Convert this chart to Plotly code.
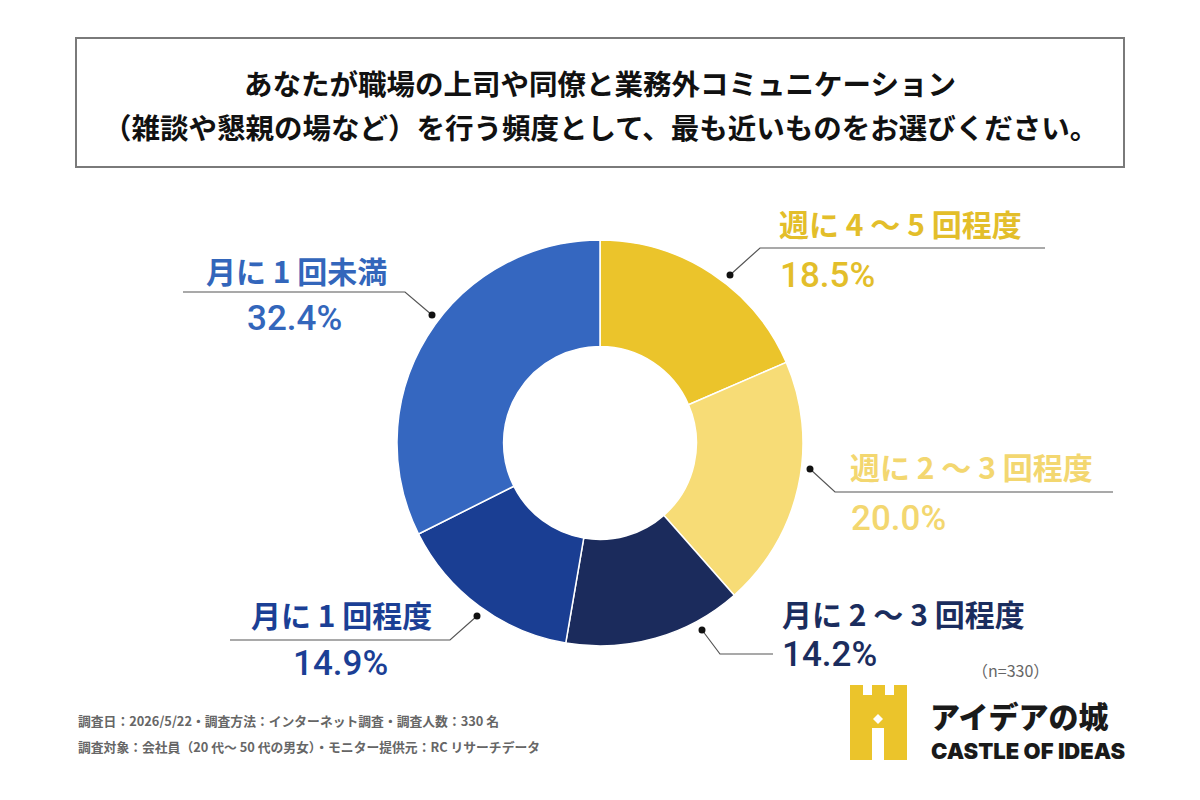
import plotly.graph_objects as go

# ---- data ----
categories = ["週に 4 〜 5 回程度", "週に 2 〜 3 回程度", "月に 2 〜 3 回程度", "月に 1 回程度", "月に 1 回未満"]
values = [18.5, 20.0, 14.2, 14.9, 32.4]
title_lines = ["あなたが職場の上司や同僚と業務外コミュニケーション",
               "（雑談や懇親の場など）を行う頻度として、最も近いものをお選びください。"]
footnotes = ["調査日：2026/5/22・調査方法：インターネット調査・調査人数：330 名",
             "調査対象：会社員（20 代～ 50 代の男女）・モニター提供元：RC リサーチデータ"]
sample_note = "（n=330）"

# ---- styles ----
slice_colors = ["#EBC42B", "#F7DC76", "#1B2B5C", "#1A3E93", "#3567C0"]
text_colors = ["#E3BE2A", "#F3D770", "#1B2D5E", "#1B3F95", "#3366BB"]
W, H = 1200, 800
FONT = "Noto Sans CJK JP"
cx, cy, R = 600, 443, 203

def px(x):
    return x / W

def py(y):
    return 1 - y / H

fig = go.Figure()
fig.add_trace(go.Pie(
    values=values, labels=categories, sort=False, direction="clockwise", rotation=0,
    hole=0.475, textinfo="none", hoverinfo="label+value", showlegend=False,
    marker=dict(colors=slice_colors, line=dict(color="white", width=1.5)),
    domain=dict(x=[px(cx - R), px(cx + R)], y=[py(cy + R), py(cy - R)]),
))

shapes = []
annotations = []

# title box
shapes.append(dict(type="rect", xref="paper", yref="paper", x0=px(76), x1=px(1124), y0=py(167), y1=py(38),
                   line=dict(color="#7a7a7a", width=2), fillcolor="white", layer="below"))
for i, (t, y) in enumerate(zip(title_lines, [82, 127])):
    annotations.append(dict(text=t, x=px(600), y=py(y), xref="paper", yref="paper", showarrow=False,
                            xanchor="center", yanchor="middle",
                            font=dict(family=FONT, size=28.5, color="#111", weight=700)))

# label layout: (dot, elbow, line_end, label_x, label_y, pct_x, pct_y, anchor_label, anchor_pct)
label_layout = [
    ((730, 275), (760, 248), 1045, 777, 223, 778, 275, "left", "left"),
    ((810, 469), (835, 492), 1113, 848, 466, 849, 518, "left", "left"),
    ((702, 630), (720, 654), 773, 780, 613, 780, 654, "left", "left"),
    ((477, 616), (450, 640), 230, 341, 614, 340, 663, "center", "center"),
    ((432, 315), (405, 292), 183, 296, 270, 294, 318, "center", "center"),
]
for cat, val, col, lay in zip(categories, values, text_colors, label_layout):
    (dx, dy), (ex, ey), lx, tx, ty, ppx, ppy, a1, a2 = lay
    shapes.append(dict(type="path", xref="paper", yref="paper",
                       path=f"M {px(dx)} {py(dy)} L {px(ex)} {py(ey)} L {px(lx)} {py(ey)}",
                       line=dict(color="#555", width=1.2)))
    shapes.append(dict(type="circle", xref="paper", yref="paper",
                       x0=px(dx - 3.5), x1=px(dx + 3.5), y0=py(dy + 3.5), y1=py(dy - 3.5),
                       fillcolor="#111", line=dict(width=0)))
    annotations.append(dict(text=cat, x=px(tx), y=py(ty), xref="paper", yref="paper", showarrow=False,
                            xanchor=a1, yanchor="middle",
                            font=dict(family=FONT, size=30, color=col, weight=700)))
    annotations.append(dict(text=f"{val:.1f}%", x=px(ppx), y=py(ppy), xref="paper", yref="paper",
                            showarrow=False, xanchor=a2, yanchor="middle",
                            font=dict(family="Roboto", size=35, color=col, weight=500)))

# footnotes
for t, y in zip(footnotes, [720, 746]):
    annotations.append(dict(text=t, x=px(76), y=py(y), xref="paper", yref="paper", showarrow=False,
                            xanchor="left", yanchor="middle",
                            font=dict(family=FONT, size=12.8, color="#666", weight=700)))

annotations.append(dict(text=sample_note, x=px(1010), y=py(670), xref="paper", yref="paper", showarrow=False,
                        xanchor="center", yanchor="middle",
                        font=dict(family=FONT, size=16, color="#666")))

# logo: castle
logo_y = "#EBC42B"
castle = [(850, 685), (863, 685), (863, 695), (872, 695), (872, 685), (885, 685), (885, 695),
          (894, 695), (894, 685), (907, 685), (907, 760), (884, 760), (884, 728), (872, 728),
          (872, 760), (850, 760)]
path = "M " + " L ".join(f"{px(x)} {py(y)}" for x, y in castle) + " Z"
shapes.append(dict(type="path", xref="paper", yref="paper", path=path, fillcolor=logo_y, line=dict(width=0)))
dpath = f"M {px(878)} {py(714)} L {px(883)} {py(719)} L {px(878)} {py(724)} L {px(873)} {py(719)} Z"
shapes.append(dict(type="path", xref="paper", yref="paper", path=dpath, fillcolor="white", line=dict(width=0)))

annotations.append(dict(text="アイデアの城", x=px(928), y=py(715), xref="paper", yref="paper", showarrow=False,
                        xanchor="left", yanchor="middle",
                        font=dict(family=FONT, size=30, color="#1a1a1a", weight=900)))
annotations.append(dict(text="CASTLE OF IDEAS", x=px(929), y=py(751), xref="paper", yref="paper",
                        showarrow=False, xanchor="left", yanchor="middle",
                        font=dict(family="Inter", size=22, color="#1a1a1a", weight=900)))

fig.update_layout(
    width=W, height=H, margin=dict(l=0, r=0, t=0, b=0),
    paper_bgcolor="white", plot_bgcolor="white",
    shapes=shapes, annotations=annotations,
)
fig.write_html("out.html")
